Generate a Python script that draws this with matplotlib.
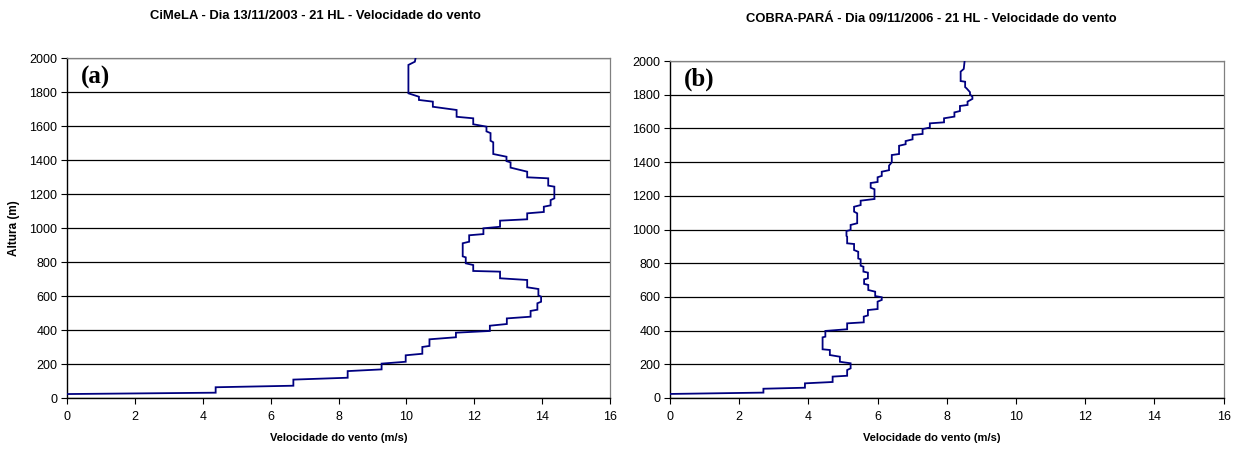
import matplotlib
matplotlib.use("Agg")
import matplotlib.pyplot as plt

# Wind speed profile, CiMeLA 13/11/2003 21 HL (speed m/s, height m, polyline vertices)
cimela_speed = [0, 4.38, 4.38, 6.67, 6.67, 8.27, 8.27, 9.27, 9.27, 9.98, 9.98, 10.47, 10.47,
                10.68, 10.68, 11.46, 11.46, 12.46, 12.46, 12.96, 12.96, 13.66, 13.66, 13.86,
                13.86, 13.97, 13.97, 13.89, 13.89, 13.56, 13.56, 12.76, 12.76, 11.97, 11.97,
                11.75, 11.75, 11.66, 11.66, 11.85, 11.85, 12.27, 12.27, 12.76, 12.76, 13.56,
                13.56, 14.05, 14.05, 14.25, 14.25, 14.36, 14.36, 14.18, 14.18, 13.56, 13.56,
                13.07, 13.07, 12.95, 12.95, 12.56, 12.56, 12.48, 12.48, 12.36, 12.36, 11.97,
                11.97, 11.48, 11.48, 10.78, 10.78, 10.37, 10.37, 10.06, 10.06, 10.25, 10.30]
cimela_height = [25, 33, 65, 74, 110, 121, 160, 170, 204, 215, 253, 262, 302,
                 308, 347, 359, 386, 396, 427, 437, 470, 480, 514, 521,
                 559, 568, 598, 605, 643, 653, 696, 706, 745, 749, 784,
                 794, 829, 835, 912, 921, 959, 966, 1000, 1009, 1045, 1053,
                 1088, 1096, 1127, 1135, 1166, 1176, 1245, 1251, 1294, 1300, 1333,
                 1357, 1388, 1395, 1421, 1437, 1506, 1515, 1560, 1570, 1598, 1612,
                 1647, 1656, 1696, 1715, 1745, 1755, 1774, 1794, 1961, 1980, 2030]

# Wind speed profile, COBRA-PARÁ 09/11/2006 21 HL
cobra_speed = [0, 2.70, 2.70, 3.90, 3.90, 4.70, 4.70, 5.12, 5.12, 5.22, 5.22, 4.91, 4.91,
               4.62, 4.62, 4.41, 4.41, 4.49, 4.49, 5.12, 5.12, 5.60, 5.60, 5.72, 5.72,
               6.00, 6.00, 6.12, 6.12, 5.93, 5.93, 5.73, 5.73, 5.61, 5.61, 5.72, 5.72,
               5.59, 5.59, 5.51, 5.51, 5.44, 5.44, 5.32, 5.32, 5.12, 5.12, 5.10, 5.10,
               5.22, 5.22, 5.41, 5.41, 5.32, 5.32, 5.51, 5.51, 5.91, 5.91, 5.80, 5.80,
               6.00, 6.00, 6.12, 6.12, 6.33, 6.33, 6.41, 6.41, 6.62, 6.62, 6.81, 6.81,
               7.01, 7.01, 7.30, 7.30, 7.51, 7.51, 7.92, 7.92, 8.22, 8.22, 8.38, 8.38,
               8.60, 8.60, 8.74, 8.74, 8.67, 8.67, 8.57, 8.53, 8.53, 8.40, 8.40, 8.49, 8.52]
cobra_height = [24, 32, 55, 61, 87, 95, 127, 132, 166, 176, 206, 215, 245,
                255, 285, 289, 360, 364, 398, 408, 443, 449, 483, 490, 522,
                528, 572, 582, 598, 605, 631, 641, 671, 677, 704, 710, 744,
                750, 779, 785, 823, 828, 868, 878, 914, 918, 957, 962, 991,
                997, 1027, 1037, 1096, 1106, 1135, 1145, 1171, 1181, 1239, 1248, 1276,
                1282, 1310, 1318, 1343, 1352, 1379, 1399, 1442, 1448, 1497, 1506, 1525,
                1535, 1561, 1567, 1596, 1605, 1630, 1636, 1660, 1670, 1695, 1703, 1733,
                1739, 1759, 1775, 1788, 1802, 1815, 1838, 1845, 1877, 1881, 1937, 1953, 2010]

titles = ["CiMeLA - Dia 13/11/2003 - 21 HL - Velocidade do vento",
          "COBRA-PARÁ - Dia 09/11/2006 - 21 HL - Velocidade do vento"]
panel_tags = ["(a)", "(b)"]
x_ticks = [0, 2, 4, 6, 8, 10, 12, 14, 16]
y_ticks = [0, 200, 400, 600, 800, 1000, 1200, 1400, 1600, 1800, 2000]

plt.rcParams['font.family'] = ['Liberation Sans', 'DejaVu Sans']

fig = plt.figure(figsize=(12.46, 4.54), dpi=100)
W, H = 1246, 454
# axes boxes in pixels: left, right, top, bottom
boxes = [(67, 610, 58.3, 398.3), (670, 1223.6, 61, 398)]
# title centres and x-label centres in pixels
title_pos = [(315, 16), (931, 19)]
xlabel_x = [339, 932]
xlabel_y = 438
profiles = [(cimela_speed, cimela_height), (cobra_speed, cobra_height)]

for i, (l, r, t, b) in enumerate(boxes):
    ax = fig.add_axes([l / W, 1 - b / H, (r - l) / W, (b - t) / H])
    spd, hgt = profiles[i]
    ax.plot(spd, hgt, color="#000080", lw=1.3, solid_joinstyle="miter", zorder=3)
    ax.set_xlim(0, 16)
    ax.set_ylim(0, 2000)
    ax.set_xticks(x_ticks)
    ax.set_yticks(y_ticks)
    ax.tick_params(axis="both", labelsize=9, length=4, width=0.8, direction="out",
                   color="black", pad=3)
    ax.tick_params(axis="x", pad=5)
    ax.yaxis.grid(True, color="black", lw=0.9)
    ax.set_axisbelow(True)
    for side in ["left", "bottom"]:
        ax.spines[side].set_color("black")
        ax.spines[side].set_linewidth(1.0)
    for side in ["top", "right"]:
        ax.spines[side].set_color("#808080")
        ax.spines[side].set_linewidth(0.9)
    ax.set_xlabel("Velocidade do vento (m/s)", fontsize=8, fontweight="bold", va="center")
    ax.xaxis.set_label_coords((xlabel_x[i] - l) / (r - l), -(xlabel_y - b) / (b - t))
    if i == 0:
        ax.set_ylabel("Altura (m)", fontsize=8.5, fontweight="bold", labelpad=7)
    ax.text(0.4, 1890, panel_tags[i], fontsize=18, fontweight="bold",
            family=["Liberation Serif", "DejaVu Serif"], va="center", ha="left")
    tx, ty = title_pos[i]
    fig.text(tx / W, 1 - ty / H, titles[i], ha="center", va="center",
             fontsize=9.4, fontweight="bold")

fig.savefig("out.png", dpi=100)
